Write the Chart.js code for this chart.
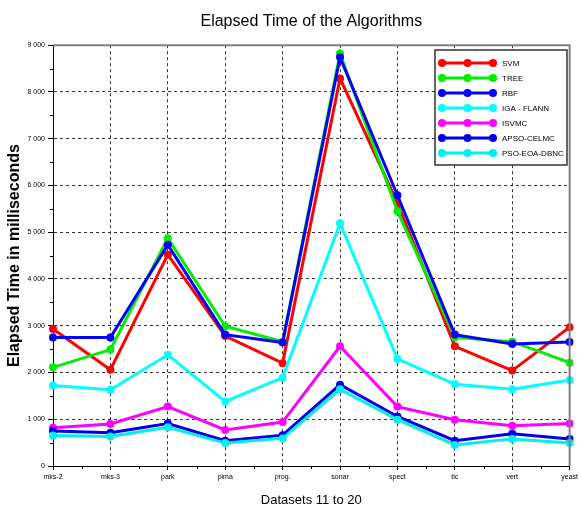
<!DOCTYPE html>
<html>
<head>
<meta charset="utf-8">
<script src="https://cdn.jsdelivr.net/npm/chart.js@4.4.1/dist/chart.umd.min.js"></script>
<style>
  html, body { margin: 0; padding: 0; background: #fff; }
</style>
</head>
<body>
<canvas id="elapsedChart" width="581" height="510"></canvas>
<script>
// Datasets on the x axis
const datasetNames = ['mks-2', 'mks-3', 'park', 'pima', 'prog.', 'sonar', 'spect', 'tic', 'vert', 'yeast'];
const algorithms = ['SVM', 'TREE', 'RBF', 'IGA - FLANN', 'ISVMC', 'APSO-CELMC', 'PSO-EOA-DBNC'];
const lineColors = ['#ff0000', '#00ee00', '#0000ff', '#00ffff', '#ff00ff', '#0000ee', '#00f0f0'];

// Elapsed time (ms)
const svm        = [2930, 2060, 4520, 2780, 2200, 8290, 5630, 2560, 2040, 2970];
const tree       = [2110, 2490, 4870, 2990, 2660, 8820, 5450, 2750, 2660, 2210];
const rbf        = [2750, 2750, 4730, 2810, 2640, 8740, 5790, 2810, 2610, 2650];
const igaFlann   = [1720, 1630, 2380, 1380, 1890, 5190, 2290, 1750, 1640, 1840];
const isvmc      = [820, 900, 1270, 770, 940, 2560, 1270, 990, 860, 910];
const apsoCelmc  = [750, 710, 910, 540, 660, 1740, 1060, 540, 690, 580];
const psoEoaDbnc = [650, 630, 830, 490, 590, 1640, 990, 450, 580, 490];

const series = [svm, tree, rbf, igaFlann, isvmc, apsoCelmc, psoEoaDbnc];
const yMax = 9000;
const yStep = 1000;

const fmt = v => String(v).replace(/\B(?=(\d{3})+(?!\d))/g, ' ');

// gray frame on top and right, plus minor ticks
const framePlugin = {
  id: 'frame',
  afterDraw(chart) {
    const { ctx, chartArea: a, scales } = chart;
    ctx.save();
    ctx.strokeStyle = '#000';
    ctx.lineWidth = 1;
    ctx.beginPath();
    for (let v = yStep / 2; v < yMax; v += yStep) {
      const y = Math.round(scales.y.getPixelForValue(v)) + 0.5;
      ctx.moveTo(a.left - 3, y);
      ctx.lineTo(a.left, y);
    }
    for (let i = 0; i < datasetNames.length - 1; i++) {
      const x = Math.round((scales.x.getPixelForTick(i) + scales.x.getPixelForTick(i + 1)) / 2) + 0.5;
      ctx.moveTo(x, a.bottom);
      ctx.lineTo(x, a.bottom + 3);
    }
    ctx.stroke();
    ctx.strokeStyle = '#808080';
    ctx.lineWidth = 2;
    ctx.beginPath();
    ctx.moveTo(a.left, a.top);
    ctx.lineTo(a.right, a.top);
    ctx.lineTo(a.right, a.bottom);
    ctx.stroke();
    ctx.restore();
  }
};

// boxed legend inside the plot, top right
const legendPlugin = {
  id: 'boxLegend',
  afterDraw(chart) {
    const { ctx } = chart;
    const left = 435, top = 50, w = 132, h = 115;
    ctx.save();
    ctx.fillStyle = '#fff';
    ctx.fillRect(left, top, w, h);
    ctx.strokeStyle = '#333';
    ctx.lineWidth = 1.5;
    ctx.strokeRect(left, top, w, h);
    ctx.font = '8px "Liberation Sans", Arial, sans-serif';
    ctx.textBaseline = 'middle';
    algorithms.forEach((name, i) => {
      const y = top + 13 + i * 15;
      ctx.strokeStyle = lineColors[i];
      ctx.fillStyle = lineColors[i];
      ctx.lineWidth = 3;
      ctx.beginPath();
      ctx.moveTo(442, y);
      ctx.lineTo(493, y);
      ctx.stroke();
      [442, 467.5, 493].forEach(x => {
        ctx.beginPath();
        ctx.arc(x, y, 4, 0, Math.PI * 2);
        ctx.fill();
      });
      ctx.fillStyle = '#000';
      ctx.fillText(name, 502, y + 0.5);
    });
    ctx.restore();
  }
};

new Chart(document.getElementById('elapsedChart').getContext('2d'), {
  type: 'line',
  data: {
    labels: datasetNames,
    datasets: series.map((data, i) => ({
      label: algorithms[i],
      data: data,
      borderColor: lineColors[i],
      backgroundColor: lineColors[i],
      borderWidth: 3,
      pointRadius: 4,
      pointBorderWidth: 0,
      tension: 0,
      order: series.length - i
    }))
  },
  options: {
    responsive: false,
    devicePixelRatio: 1,
    animation: false,
    layout: { padding: { left: 0, right: 8, top: 0, bottom: 0 } },
    plugins: {
      legend: { display: false },
      tooltip: { enabled: false },
      title: {
        display: true,
        fullSize: false,
        text: 'Elapsed Time of the Algorithms',
        color: '#000',
        font: { family: '"Liberation Sans", Arial', size: 16, weight: 'normal' },
        padding: { top: 12, bottom: 14 }
      }
    },
    scales: {
      x: {
        offset: false,
        afterFit: s => { s.height = 44; },
        grid: { color: '#333', lineWidth: 1, tickLength: 4, tickColor: '#000', tickBorderDash: [] },
        border: { color: '#000', width: 1, dash: [3, 3] },
        ticks: {
          color: '#000', autoSkip: false, maxRotation: 0, padding: 3,
          font: { family: '"Liberation Sans", Arial', size: 7 }
        },
        title: {
          display: true, text: 'Datasets 11 to 20', color: '#000',
          font: { family: '"Liberation Sans", Arial', size: 13 },
          padding: { top: 1, bottom: 2 }
        }
      },
      y: {
        min: 0,
        max: yMax,
        afterFit: s => { s.width = 53; },
        grid: { color: '#333', lineWidth: 1, tickLength: 5, tickColor: '#000', tickBorderDash: [] },
        border: { color: '#000', width: 1, dash: [3, 3] },
        ticks: {
          stepSize: yStep, color: '#000', padding: 3,
          font: { family: '"Liberation Sans", Arial', size: 7 },
          callback: v => fmt(v)
        },
        title: {
          display: true, text: 'Elapsed Time in milliseconds', color: '#000',
          font: { family: '"Liberation Sans", Arial', size: 16, weight: 'bold' },
          padding: { top: 5, bottom: 0 }
        }
      }
    }
  },
  plugins: [framePlugin, legendPlugin]
});
</script>
</body>
</html>
